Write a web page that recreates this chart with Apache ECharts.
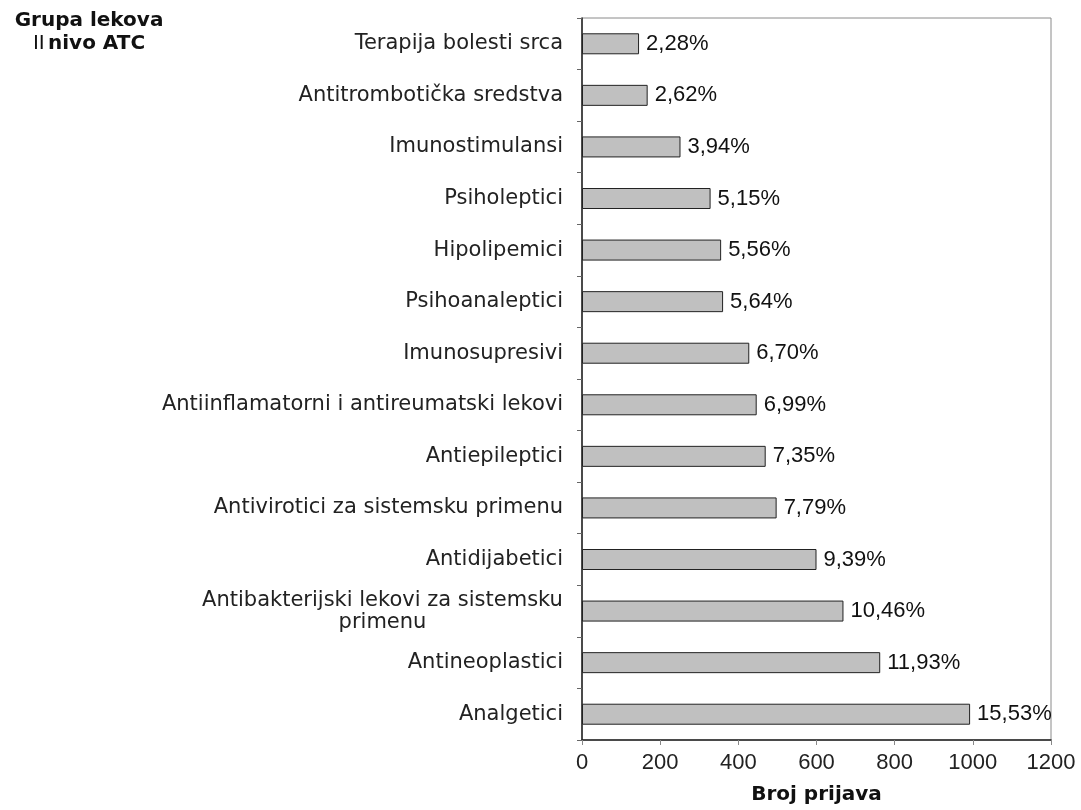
<!DOCTYPE html>
<html>
<head>
<meta charset="utf-8">
<script src="https://cdn.jsdelivr.net/npm/echarts@6/dist/echarts.min.js"></script>
<style>
  html, body { margin: 0; padding: 0; background: #fff; }
  #chart { width: 1081px; height: 810px; }
</style>
</head>
<body>
<div id="chart"></div>
<script>
// kategorije (II nivo ATC), odozgo nadole
const categories = [
  "Terapija bolesti srca",
  "Antitrombotička sredstva",
  "Imunostimulansi",
  "Psiholeptici",
  "Hipolipemici",
  "Psihoanaleptici",
  "Imunosupresivi",
  "Antiinflamatorni i antireumatski lekovi",
  "Antiepileptici",
  "Antivirotici za sistemsku primenu",
  "Antidijabetici",
  "Antibakterijski lekovi za sistemsku\nprimenu",
  "Antineoplastici",
  "Analgetici"
];
// broj prijava (procena sa slike)
const counts = [146, 168, 252, 329, 356, 361, 428, 447, 470, 498, 600, 669, 763, 993];
// procenti ispisani pored stubića
const percents = [2.28, 2.62, 3.94, 5.15, 5.56, 5.64, 6.70, 6.99, 7.35, 7.79, 9.39, 10.46, 11.93, 15.53];
const xTicks = [0, 200, 400, 600, 800, 1000, 1200];

const catFont = '21px "DejaVu Sans"';
// sirina prvog reda dugog naziva, da drugi red bude centriran ispod njega
const ctx = document.createElement("canvas").getContext("2d");
ctx.font = catFont;
const wrapWidth = Math.ceil(ctx.measureText("Antibakterijski lekovi za sistemsku").width);

const chart = echarts.init(document.getElementById("chart"));

const option = {
  animation: false,
  backgroundColor: "#fff",
  grid: {
    left: 582,
    right: 30,
    top: 18,
    bottom: 67,
    show: true,
    borderColor: "#8a8a8a",
    borderWidth: 1
  },
  graphic: [
    {
      type: "text",
      x: 89,
      y: 9,
      style: {
        text: "{b|Grupa lekova}\n{n|II} {b|nivo ATC}",
        textAlign: "center",
        rich: {
          b: { fontFamily: "DejaVu Sans", fontWeight: "bold", fontSize: 20, lineHeight: 23, fill: "#111" },
          n: { fontFamily: "DejaVu Sans", fontSize: 20, lineHeight: 23, fill: "#111" }
        }
      }
    }
  ],
  xAxis: {
    type: "value",
    min: xTicks[0],
    max: xTicks[xTicks.length - 1],
    interval: 200,
    name: "Broj prijava",
    nameLocation: "middle",
    nameGap: 45,
    nameTextStyle: {
      fontFamily: "DejaVu Sans",
      fontWeight: "bold",
      fontSize: 20,
      color: "#111"
    },
    axisLine: { show: true, lineStyle: { color: "#222", width: 1.5 } },
    axisTick: { show: true, length: 5, lineStyle: { color: "#888" } },
    axisLabel: {
      margin: 12,
      fontFamily: "Liberation Sans",
      fontSize: 22,
      color: "#222",
      formatter: function (v) { return String(v); }
    },
    splitLine: { show: false }
  },
  yAxis: {
    type: "category",
    inverse: true,
    data: categories,
    axisLine: { show: true, lineStyle: { color: "#222", width: 1.5 } },
    axisTick: { show: true, length: 5, lineStyle: { color: "#666" } },
    axisLabel: {
      margin: 19,
      fontFamily: "DejaVu Sans",
      fontSize: 21,
      color: "#222",
      formatter: function (v) {
        if (v.indexOf("\n") < 0) return v;
        return v.split("\n").map(function (s) { return "{c|" + s + "}"; }).join("\n");
      },
      rich: {
        c: {
          width: wrapWidth,
          align: "center",
          fontFamily: "DejaVu Sans",
          fontSize: 21,
          lineHeight: 22,
          color: "#222"
        }
      }
    },
    splitLine: { show: false }
  },
  series: [
    {
      type: "bar",
      data: counts,
      barWidth: 21,
      itemStyle: {
        color: "#c0c0c0",
        borderColor: "#222",
        borderWidth: 1
      },
      label: {
        show: true,
        position: "right",
        distance: 7,
        fontFamily: "Liberation Sans",
        fontSize: 22,
        color: "#111",
        formatter: function (p) {
          return percents[p.dataIndex].toFixed(2).replace(".", ",") + "%";
        }
      }
    }
  ]
};

chart.setOption(option);
</script>
</body>
</html>
